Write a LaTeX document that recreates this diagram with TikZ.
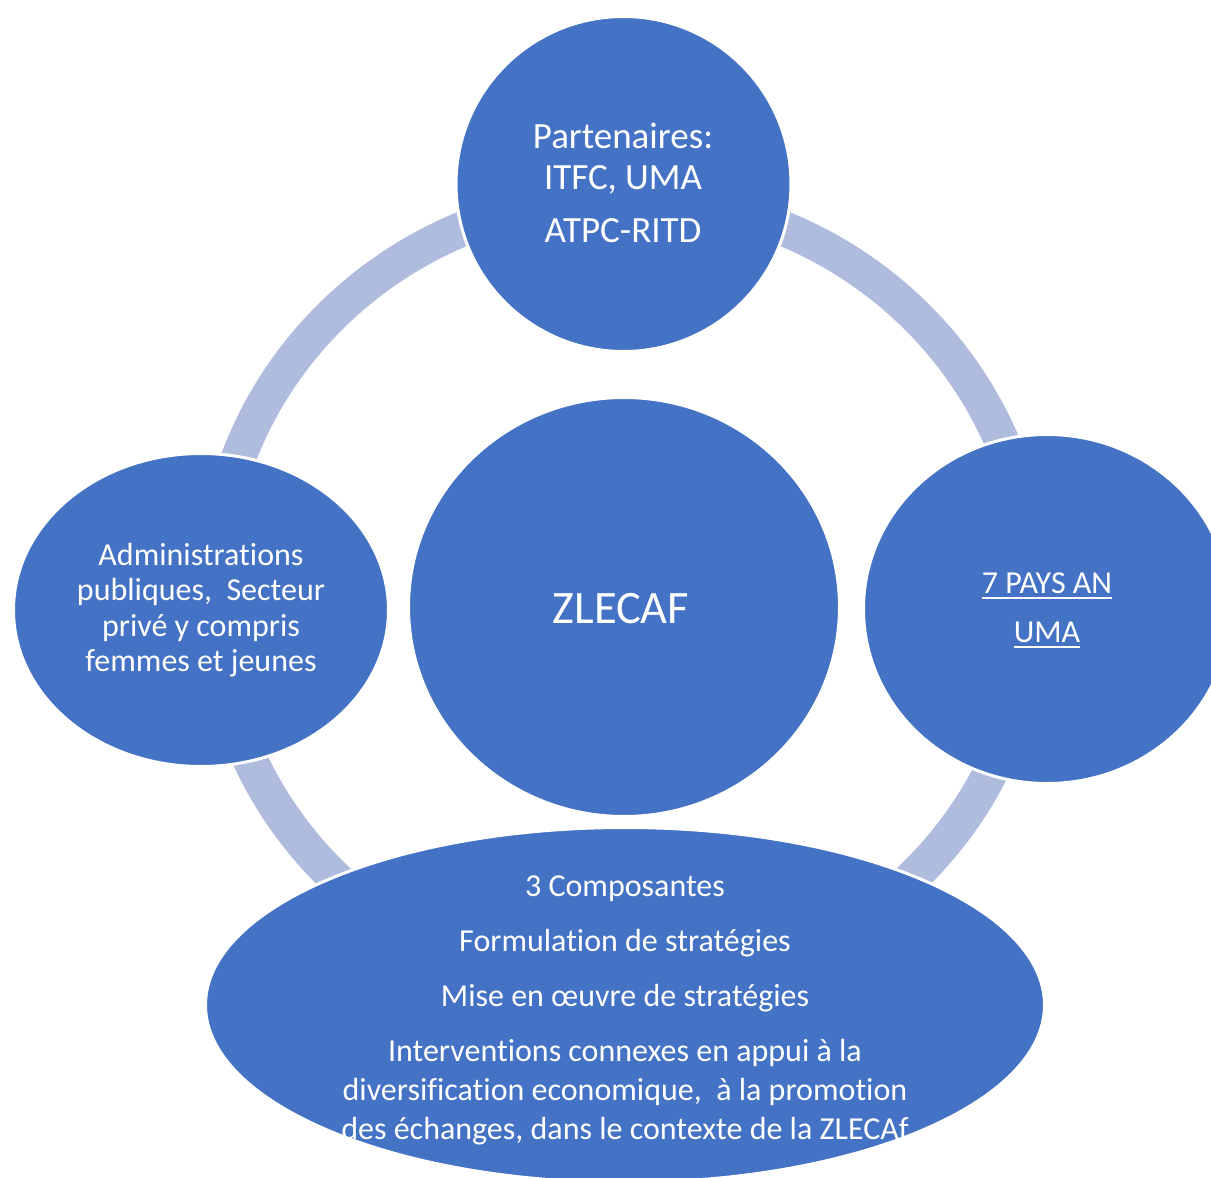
\documentclass[tikz,border=0pt]{standalone}
\usepackage{fontspec}
\setmainfont[Ligatures={NoCommon}]{Carlito}
\usetikzlibrary{shapes.geometric}
\definecolor{shapeblue}{RGB}{68,114,196}
\definecolor{ringblue}{RGB}{175,188,222}
\begin{document}
\begin{tikzpicture}[x=1pt,y=-1pt,
  blob/.style={ellipse, fill=shapeblue, draw=white, line width=3pt, inner sep=0pt, outer sep=0pt},
  txt/.style={text=white, anchor=base, inner sep=0pt, outer sep=0pt, font=\fontsize{32}{38}\selectfont},
  toptxt/.style={txt, font=\fontsize{37}{44}\selectfont},
  bigtxt/.style={txt, font=\fontsize{46.5}{55}\selectfont},
  uline/.style={white, line width=2pt}
  ]
\clip (0,0) rectangle (1211,1178);
\fill[white] (0,0) rectangle (1211,1178);
\draw[ringblue, line width=35pt] (623.5,595) ellipse [x radius=410, y radius=398];

\node[blob, minimum width=335pt, minimum height=335pt] (top) at (623.5,184) {};
\node[blob, minimum width=431pt, minimum height=419pt] (mid) at (624,607) {};
\node[blob, minimum width=375pt, minimum height=313pt] (left) at (201,610) {};
\node[blob, minimum width=367pt, minimum height=349pt] (right) at (1047,609) {};
\node[blob, minimum width=839pt, minimum height=355pt] (bottom) at (625,1005) {};

% top
\node[toptxt] (t1) at (623,148) {Partenaires:};
\node[toptxt] (t2) at (623,189) {ITFC, UMA};
\node[toptxt] (t3) at (623,242) {ATPC-RITD};
% centre
\node[bigtxt] (c1) at (621,623) {ZLECAF};
% left
\node[txt] (l1) at (201,565) {Administrations};
\node[txt] (l2) at (201,600.5) {publiques,\ \ Secteur};
\node[txt] (l3) at (201,636) {privé y compris};
\node[txt] (l4) at (201,671.5) {femmes et jeunes};
% right
\node[txt] (r1) at (1047,593) {7 PAYS AN};
\node[txt] (r2) at (1047,642) {UMA};
\draw[uline] ([yshift=-5pt]r1.base west) -- ([yshift=-5pt]r1.base east);
\draw[uline] ([yshift=-5pt]r2.base west) -- ([yshift=-5pt]r2.base east);
% bottom
\node[txt] (b1) at (625,896) {3 Composantes};
\node[txt] (b2) at (625,951) {Formulation de stratégies};
\node[txt] (b3) at (625,1006) {Mise en œuvre de stratégies};
\node[txt] (b4) at (625,1061) {Interventions connexes en appui à la};
\node[txt] (b5) at (625,1100) {diversification economique,\ \ à la promotion};
\node[txt] (b6) at (625,1139) {des échanges, dans le contexte de la ZLECAf};
\end{tikzpicture}
\end{document}
